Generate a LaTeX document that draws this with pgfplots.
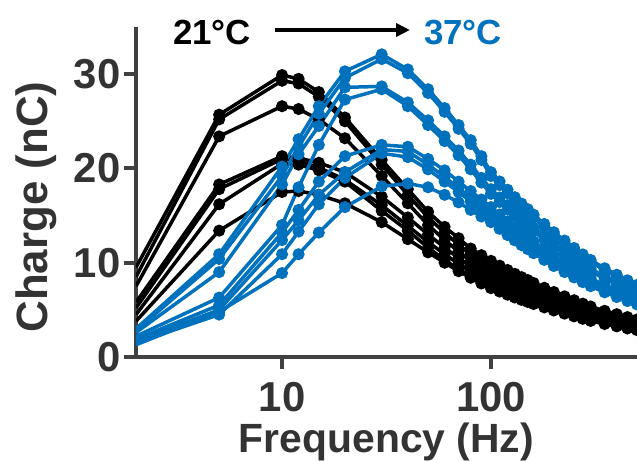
\documentclass[border=0pt]{standalone}
\usepackage{fontspec}
\setmainfont{Liberation Sans}
\usepackage{pgfplots}
\usepackage{pgfplotstable}
\pgfplotsset{compat=1.18}
\usetikzlibrary{arrows.meta}
\definecolor{tblue}{RGB}{0,114,189}
\definecolor{axgray}{RGB}{64,64,64}
\definecolor{txgray}{RGB}{51,51,51}

% charge (nC) vs stimulation frequency (Hz); b = 21 C, c = 37 C
\pgfplotstableread{
f    b1    b2    b3    b4    b5    b6    b7    c1    c2    c3    c4    c5    c6    c7    c8
2    9.5   8.5   7.5   5.8   5.2   4.5   3.8   3.0   2.8   2.6   2.2   1.9   1.7   1.5   1.3
5    25.7  25.2  23.4  18.3  17.8  16.2  13.4  10.9  10.4  9.0   6.3   5.5   5.0   4.5   4.8
10   29.9  29.3  26.6  21.3  21.0  20.5  17.5  20.2  19.2  18.3  14.0  13.2  12.4  10.9  8.9
12   29.5  29.0  26.3  21.1  20.8  20.4  17.6  23.1  22.3  21.5  18.0  15.6  14.5  13.3  10.9
15   28.1  27.6  25.2  20.6  20.1  19.8  17.2  26.6  25.8  24.5  22.5  18.6  17.2  16.2  13.2
20   25.4  25.0  23.2  19.6  18.8  18.6  16.3  30.3  29.6  28.6  27.3  21.3  19.6  19.0  15.9
30   20.9  20.4  19.2  17.0  16.1  15.5  14.3  32.1  31.6  28.7  28.4  22.5  22.0  21.6  18.1
40   17.8  17.2  16.3  14.8  13.9  13.4  12.5  30.5  30.1  27.0  26.6  22.3  21.8  21.2  18.4
50   15.4  14.8  14.0  13.0  12.2  11.6  11.1  28.4  28.0  25.1  24.6  21.0  20.4  19.9  18.0
60   13.8  13.2  12.4  11.6  10.9  10.3  10.0  26.4  26.0  23.4  22.9  19.8  19.1  18.6  17.2
70   12.6  11.9  11.2  10.5  9.9   9.3   9.1   24.6  24.2  21.9  21.4  18.6  17.9  17.5  16.4
80   11.5  10.9  10.2  9.6   9.1   8.5   8.4   23.0  22.6  20.4  19.9  17.6  16.9  16.5  15.6
90   10.8  10.1  9.5   8.9   8.4   7.9   7.8   21.3  20.9  19.0  18.5  16.7  16.0  15.7  14.9
100  10.2  9.5   8.9   8.4   7.9   7.4   7.3   19.6  19.2  17.8  17.3  15.9  15.3  14.9  14.3
110  9.69  9.03  8.46  7.98  7.51  7.03  6.94  18.62 18.24 16.91 16.44 15.11 14.54 14.16 13.59
120  9.23  8.60  8.05  7.60  7.15  6.70  6.61  17.74 17.38 16.11 15.66 14.39 13.85 13.48 12.94
130  8.82  8.22  7.70  7.27  6.83  6.40  6.31  16.95 16.61 15.40 14.96 13.75 13.23 12.89 12.37
140  8.47  7.89  7.39  6.97  6.56  6.14  6.06  16.27 15.94 14.77 14.36 13.20 12.70 12.37 11.87
150  8.16  7.60  7.12  6.72  6.32  5.92  5.84  15.68 15.36 14.24 13.84 12.72 12.24 11.92 11.44
160  7.85  7.32  6.85  6.47  6.08  5.70  5.62  15.09 14.78 13.71 13.32 12.24 11.78 11.47 11.01
180  7.34  6.84  6.41  6.05  5.69  5.33  5.26  14.11 13.82 12.82 12.46 11.45 11.02 10.73 10.30
200  6.89  6.41  6.01  5.67  5.33  5.00  4.93  13.23 12.96 12.02 11.68 10.73 10.33 10.06 9.65
225  6.43  5.99  5.61  5.29  4.98  4.66  4.60  12.35 12.10 11.21 10.90 10.02 9.64  9.39  9.01
250  6.02  5.61  5.25  4.96  4.66  4.37  4.31  11.56 11.33 10.50 10.21 9.38  9.03  8.79  8.44
275  5.66  5.27  4.94  4.66  4.38  4.11  4.05  10.88 10.66 9.88  9.60  8.82  8.49  8.27  7.94
300  5.36  4.99  4.67  4.41  4.15  3.89  3.83  10.29 10.08 9.35  9.08  8.35  8.03  7.82  7.51
350  4.90  4.56  4.27  4.03  3.79  3.55  3.50  9.41  9.22  8.54  8.30  7.63  7.34  7.15  6.86
400  4.54  4.23  3.96  3.74  3.52  3.29  3.25  8.72  8.54  7.92  7.70  7.08  6.81  6.63  6.36
450  4.23  3.94  3.69  3.49  3.28  3.07  3.03  8.13  7.97  7.39  7.18  6.60  6.35  6.18  5.93
500  3.98  3.71  3.47  3.28  3.08  2.89  2.85  7.64  7.49  6.94  6.75  6.20  5.97  5.81  5.58
}\data

\begin{document}
\begin{tikzpicture}
\begin{axis}[
    at={(0,0)}, anchor=south west,
    scale only axis,
    width=501bp, height=330bp,
    xmode=log, log basis x=10,
    xmin=2, xmax=500, ymin=0, ymax=35,
    axis lines=left,
    axis line style={-, line width=4bp, draw=axgray},
    tick align=outside,
    major tick length=12bp,
    tick style={line width=4bp, draw=axgray},
    xminorticks=false,
    xtick={10,100}, xticklabels={10,100},
    ytick={0,10,20,30}, yticklabels={0,10,20,30},
    tick label style={font=\fontsize{42}{46}\selectfont\bfseries, text=txgray},
    xticklabel style={yshift=-10bp},
    every axis x label/.style={at={(axis description cs:0.5,-0.288)}, anchor=base,
        font=\fontsize{41}{46}\selectfont\bfseries, text=txgray},
    every axis y label/.style={at={(axis description cs:-0.1776,0.4545)}, rotate=90, anchor=base,
        font=\fontsize{44}{48}\selectfont\bfseries, text=txgray},
    xlabel={Frequency (Hz)},
    ylabel={Charge (nC)},
    every axis plot/.append style={line width=3.5bp, mark=*, mark size=4.2bp, mark phase=2},
]
\pgfplotsinvokeforeach{b1,b2,b3,b4,b5,b6,b7}{
  \addplot[black, mark options={fill=black}] table[x=f, y=#1] {\data};
}
\pgfplotsinvokeforeach{c1,c2,c3,c4,c5,c6,c7,c8}{
  \addplot[tblue, mark options={fill=tblue}] table[x=f, y=#1] {\data};
}
\end{axis}
\pgfresetboundingbox
\path[use as bounding box] (-136bp,-104bp) rectangle (501bp,357bp);
\node[anchor=base west, inner sep=0, font=\fontsize{35}{40}\selectfont\bfseries] at (37bp,312bp) {21°C};
\draw[line width=4bp, -{Triangle[length=14bp,width=13bp]}] (139bp,327bp) -- (274bp,327bp);
\node[anchor=base west, inner sep=0, text=tblue, font=\fontsize{35}{40}\selectfont\bfseries] at (288bp,312bp) {37°C};
\end{tikzpicture}
\end{document}
